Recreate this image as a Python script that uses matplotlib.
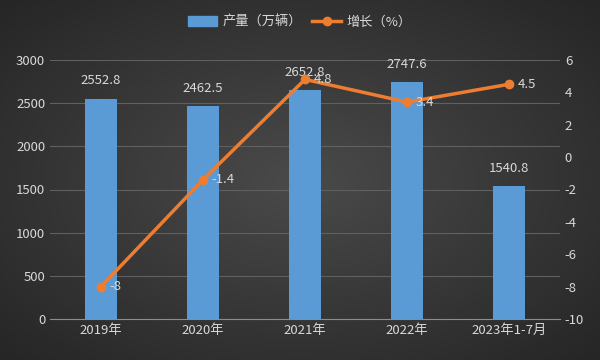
import numpy as np
import matplotlib
matplotlib.use('Agg')
import matplotlib.pyplot as plt
from matplotlib.lines import Line2D
from matplotlib.patches import Patch

plt.rcParams['font.family'] = ['Noto Sans CJK SC', 'DejaVu Sans']
plt.rcParams['axes.unicode_minus'] = False

categories = ['2019年', '2020年', '2021年', '2022年', '2023年1-7月']
output = [2552.8, 2462.5, 2652.8, 2747.6, 1540.8]
growth = [-8, -1.4, 4.8, 3.4, 4.5]

txt = '#d9d9d9'
blue = '#5b9bd5'
orange = '#ed7d31'

fig = plt.figure(figsize=(6, 3.6), dpi=100)

# dark radial background
bg = fig.add_axes([0, 0, 1, 1], zorder=-10)
yy, xx = np.mgrid[-1:1:360j, -1:1:600j]
r = np.sqrt(xx ** 2 + yy ** 2)
bg.imshow(r, cmap=matplotlib.colors.LinearSegmentedColormap.from_list('g', ['#4a4a4a', '#262626']),
          aspect='auto', extent=[0, 1, 0, 1], vmin=0, vmax=1.4)
bg.axis('off')

ax = fig.add_axes([50 / 600, 1 - 319 / 360, 510 / 600, 259 / 360])
ax.patch.set_alpha(0)
x = np.arange(len(categories))
bars = ax.bar(x, output, width=0.31, color=blue, zorder=2)
ax.set_ylim(0, 3000)
ax.set_xlim(-0.5, len(categories) - 0.5)
ax.set_yticks(range(0, 3001, 500))
ax.yaxis.grid(True, color='#606060', linewidth=0.8, zorder=0)
ax.set_xticks(x)
ax.set_xticklabels(categories)
ax.tick_params(colors=txt, labelsize=9.5, length=0)
for s in ['top', 'right', 'left']:
    ax.spines[s].set_visible(False)
ax.spines['bottom'].set_color('#8c8c8c')
for xi, v in zip(x, output):
    ax.annotate(f'{v}', (xi, v), xytext=(0, 8), textcoords='offset points',
                ha='center', va='bottom', color=txt, fontsize=9.5)

ax2 = ax.twinx()
ax2.plot(x, growth, color=orange, linewidth=2.5, marker='o', markersize=6, zorder=3)
ax2.set_ylim(-10, 6)
ax2.set_yticks(range(-10, 7, 2))
ax2.tick_params(colors=txt, labelsize=9.5, length=0)
for s in ax2.spines.values():
    s.set_visible(False)
for xi, v in zip(x, growth):
    ax2.annotate(f'{v:g}', (xi, v), xytext=(6, 0), textcoords='offset points',
                 ha='left', va='center', color=txt, fontsize=9.5)

handles = [Patch(color=blue), Line2D([], [], color=orange, linewidth=2.5, marker='o', markersize=6)]
fig.legend(handles, ['产量（万辆）', '增长（%）'], loc='center', bbox_to_anchor=(0.5, 1 - 22 / 360),
           ncol=2, frameon=False, fontsize=9.5, labelcolor=txt, handlelength=2.2, columnspacing=0.8,
           handletextpad=0.4)

fig.savefig('out.png', dpi=100)
